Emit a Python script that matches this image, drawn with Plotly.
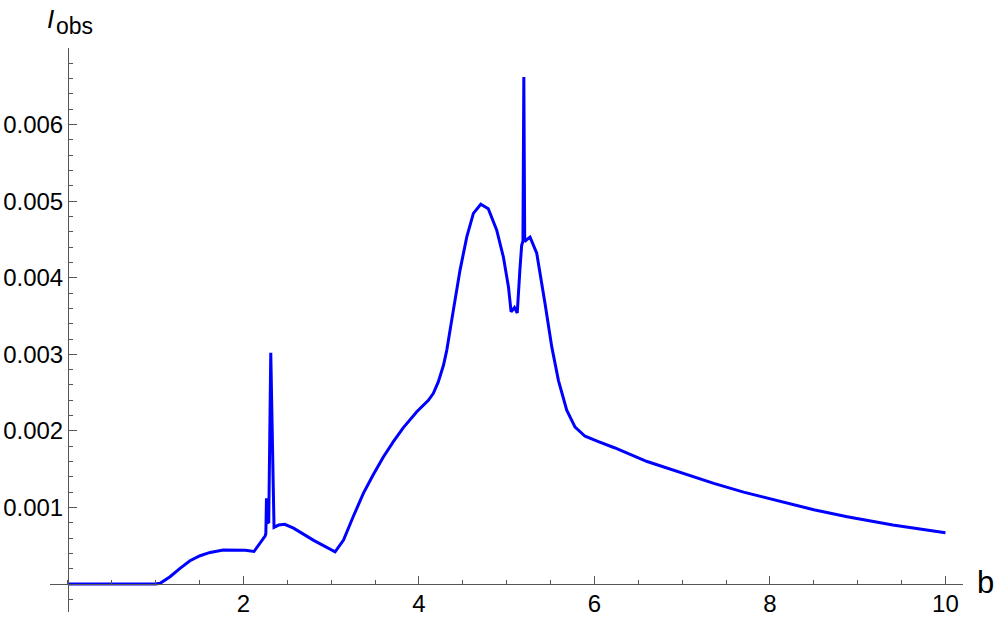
import plotly.graph_objects as go

# values (I_obs in units of 1e-3)
b_vals = [0.0, 1.0, 1.05, 1.163, 1.277, 1.39, 1.505, 1.62, 1.77, 1.92,
          2.02, 2.12, 2.246, 2.255, 2.262, 2.27, 2.288, 2.311, 2.348, 2.40,
          2.47, 2.57, 2.8, 3.044, 3.14, 3.25, 3.366, 3.48, 3.594, 3.708,
          3.82, 3.975, 4.05, 4.107, 4.164, 4.22, 4.28, 4.317, 4.392, 4.468,
          4.545, 4.62, 4.704, 4.79, 4.886, 4.962, 5.02, 5.05, 5.088, 5.12,
          5.15, 5.17, 5.185, 5.195, 5.205, 5.22, 5.266, 5.342, 5.437, 5.513,
          5.589, 5.684, 5.779, 5.893, 6.045, 6.227, 6.6, 7.0, 7.36, 7.7,
          8.12, 8.5, 8.88, 9.4, 10.0]
i_obs_milli = [0.0, 0.0, 0.01, 0.096, 0.205, 0.305, 0.37, 0.413, 0.444, 0.444,
               0.44, 0.425, 0.627, 0.66, 1.12, 0.80, 0.81, 3.02, 0.74, 0.77,
               0.78, 0.73, 0.57, 0.42, 0.574, 0.879, 1.184, 1.43, 1.66, 1.86,
               2.04, 2.25, 2.33, 2.40, 2.49, 2.64, 2.86, 3.055, 3.577, 4.10,
               4.534, 4.84, 4.96, 4.90, 4.62, 4.27, 3.88, 3.555, 3.61, 3.54,
               4.10, 4.42, 4.48, 6.62, 4.47, 4.49, 4.53, 4.32, 3.66, 3.10,
               2.66, 2.27, 2.05, 1.93, 1.86, 1.78, 1.6, 1.45, 1.315, 1.2,
               1.075, 0.97, 0.88, 0.77, 0.67]
i_obs = [v / 1000 for v in i_obs_milli]

x_tickvals = [2, 4, 6, 8, 10]
x_ticktext = ['2', '4', '6', '8', '10']
y_tickvals = [0.001, 0.002, 0.003, 0.004, 0.005, 0.006]
y_ticktext = ['0.001', '0.002', '0.003', '0.004', '0.005', '0.006']

W, H = 997, 621
AXIS_COLOR = '#555555'
FONT = 'Liberation Sans, Arial, sans-serif'


def px_x(px):
	return px / W


def px_y(py):
	return (H - py) / H


fig = go.Figure()
fig.add_trace(go.Scatter(x=b_vals, y=i_obs, mode='lines',
			line=dict(color='#0000ff', width=3), showlegend=False))

fig.update_layout(
	width=W, height=H,
	margin=dict(l=0, r=0, t=0, b=0),
	paper_bgcolor='white', plot_bgcolor='white',
	font=dict(family=FONT, color='black', size=24),
)

fig.update_xaxes(
	domain=[px_x(50), px_x(963)], range=[-0.205, 10.2],
	anchor='free', position=px_y(584),
	showgrid=False, zeroline=False,
	showline=True, linecolor=AXIS_COLOR, linewidth=1,
	tickmode='array', tickvals=x_tickvals, ticktext=x_ticktext,
	ticks='inside', ticklen=8, tickcolor=AXIS_COLOR, tickwidth=1,
	tickfont=dict(size=24, family=FONT, color='black'),
	ticklabelstandoff=-2,
	minor=dict(ticks='inside', ticklen=4, tickcolor=AXIS_COLOR, dtick=0.5, tick0=0, showgrid=False),
)
fig.update_yaxes(
	domain=[px_y(612), px_y(48)], range=[-0.000365, 0.007],
	anchor='free', position=px_x(68),
	showgrid=False, zeroline=False,
	showline=True, linecolor=AXIS_COLOR, linewidth=1,
	tickmode='array', tickvals=y_tickvals, ticktext=y_ticktext,
	ticks='inside', ticklen=8, tickcolor=AXIS_COLOR, tickwidth=1,
	tickfont=dict(size=24, family=FONT, color='black'),
	minor=dict(ticks='inside', ticklen=4, tickcolor=AXIS_COLOR, dtick=0.0002, tick0=0, showgrid=False),
)

# axis labels
fig.add_annotation(text='b', xref='paper', yref='paper', x=px_x(985), y=px_y(582),
			showarrow=False, xanchor='center', yanchor='middle',
			font=dict(size=31, family=FONT, color='black'))
fig.add_annotation(text='<i>I</i>', xref='paper', yref='paper', x=px_x(50), y=px_y(19),
			showarrow=False, xanchor='center', yanchor='middle',
			font=dict(size=26, family=FONT, color='black'))
fig.add_annotation(text='obs', xref='paper', yref='paper', x=px_x(74), y=px_y(26),
			showarrow=False, xanchor='center', yanchor='middle',
			font=dict(size=23, family=FONT, color='black'))

fig.write_html("out.html", config={'displayModeBar': False},
			post_script="document.body.style.margin='0';")
